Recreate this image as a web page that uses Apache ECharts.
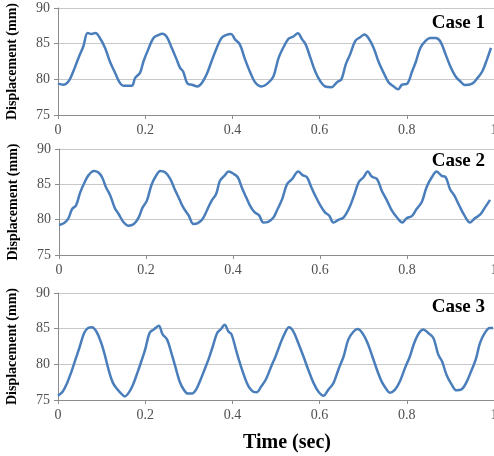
<!DOCTYPE html>
<html>
<head>
<meta charset="utf-8">
<title>Displacement vs time</title>
<script src="https://cdn.jsdelivr.net/npm/echarts@6/dist/echarts.min.js"></script>
<style>
  html, body { margin: 0; padding: 0; background: #fff; }
  #chart { width: 494px; height: 456px; }
</style>
</head>
<body>
<div id="chart"></div>
<script>
// values
const caseNames = ['Case 1', 'Case 2', 'Case 3']
const xTicks = [0, 0.2, 0.4, 0.6, 0.8, 1]
const yTicks = [75, 80, 85, 90]

const time1 = [0, 0.012, 0.024, 0.035, 0.047, 0.058, 0.068, 0.077, 0.086, 0.096, 0.108, 0.119, 0.131, 0.142, 0.150, 0.169, 0.177, 0.188, 0.196, 0.207, 0.219, 0.230, 0.239, 0.249, 0.261, 0.272, 0.280, 0.287, 0.297, 0.307, 0.320, 0.330, 0.341, 0.352, 0.364, 0.375, 0.385, 0.397, 0.406, 0.417, 0.429, 0.440, 0.452, 0.467, 0.482, 0.494, 0.506, 0.518, 0.529, 0.540, 0.550, 0.560, 0.568, 0.579, 0.590, 0.602, 0.613, 0.627, 0.640, 0.650, 0.660, 0.670, 0.682, 0.693, 0.703, 0.712, 0.724, 0.735, 0.747, 0.758, 0.770, 0.780, 0.789, 0.801, 0.812, 0.821, 0.831, 0.843, 0.854, 0.866, 0.877, 0.889, 0.900, 0.912, 0.923, 0.933, 0.950, 0.961, 0.973, 0.984, 0.993]
const disp1 = [79.4, 79.25, 79.7, 81.1, 83.0, 84.6, 86.5, 86.35, 86.5, 85.8, 84.4, 82.5, 80.9, 79.5, 79.1, 79.1, 80.2, 80.9, 82.5, 84.2, 85.8, 86.2, 86.4, 86.0, 84.4, 82.8, 81.6, 81.1, 79.4, 79.25, 79.0, 79.5, 80.7, 82.5, 84.4, 85.8, 86.2, 86.35, 85.6, 84.9, 82.8, 81.1, 79.6, 79.0, 79.5, 80.4, 83.0, 84.6, 85.7, 86.0, 86.45, 85.6, 84.9, 83.0, 81.1, 79.7, 79.0, 78.9, 79.6, 80.0, 82.1, 83.5, 85.4, 85.9, 86.3, 85.8, 84.4, 82.5, 80.9, 79.6, 79.0, 78.6, 79.25, 79.4, 81.1, 82.5, 84.4, 85.4, 85.8, 85.8, 85.3, 83.5, 81.8, 80.4, 79.7, 79.2, 79.4, 80.1, 81.1, 82.8, 84.4]

const time2 = [0, 0.011, 0.021, 0.030, 0.039, 0.049, 0.059, 0.068, 0.080, 0.090, 0.099, 0.108, 0.118, 0.128, 0.137, 0.149, 0.160, 0.172, 0.183, 0.192, 0.202, 0.212, 0.221, 0.233, 0.244, 0.256, 0.266, 0.276, 0.286, 0.298, 0.309, 0.319, 0.330, 0.340, 0.351, 0.361, 0.370, 0.380, 0.390, 0.401, 0.411, 0.420, 0.430, 0.439, 0.449, 0.460, 0.470, 0.481, 0.493, 0.501, 0.513, 0.524, 0.536, 0.550, 0.560, 0.570, 0.580, 0.589, 0.601, 0.612, 0.621, 0.631, 0.643, 0.654, 0.666, 0.677, 0.689, 0.700, 0.710, 0.719, 0.731, 0.742, 0.754, 0.765, 0.777, 0.789, 0.799, 0.811, 0.822, 0.834, 0.845, 0.857, 0.868, 0.880, 0.889, 0.899, 0.909, 0.920, 0.932, 0.945, 0.956, 0.968, 0.979, 0.991]
const disp2 = [79.25, 79.5, 80.1, 81.5, 82.0, 83.9, 85.3, 86.3, 86.9, 86.7, 86.0, 84.6, 83.4, 81.7, 80.8, 79.6, 79.15, 79.4, 80.3, 81.7, 82.7, 84.8, 86.0, 86.9, 86.7, 85.75, 84.3, 83.0, 81.7, 80.6, 79.4, 79.5, 80.1, 81.3, 82.7, 83.6, 85.5, 86.2, 86.8, 86.5, 86.0, 84.6, 83.2, 82.0, 81.1, 80.6, 79.6, 79.7, 80.3, 81.3, 82.9, 85.0, 85.75, 86.8, 86.3, 86.0, 84.6, 83.4, 82.0, 81.0, 80.6, 79.6, 80.0, 80.3, 81.5, 83.2, 85.3, 86.0, 86.8, 86.1, 85.75, 84.1, 82.7, 81.3, 80.3, 79.6, 80.2, 80.5, 81.5, 82.5, 84.6, 86.0, 86.8, 86.2, 86.0, 84.3, 83.4, 82.0, 80.6, 79.6, 80.2, 80.7, 81.7, 82.8]

const time3 = [0, 0.011, 0.021, 0.031, 0.040, 0.050, 0.060, 0.069, 0.078, 0.088, 0.098, 0.107, 0.116, 0.126, 0.136, 0.145, 0.153, 0.162, 0.172, 0.182, 0.191, 0.200, 0.210, 0.220, 0.231, 0.240, 0.250, 0.260, 0.269, 0.279, 0.289, 0.298, 0.307, 0.317, 0.327, 0.336, 0.345, 0.355, 0.365, 0.374, 0.382, 0.391, 0.398, 0.408, 0.416, 0.426, 0.437, 0.447, 0.456, 0.466, 0.477, 0.489, 0.499, 0.509, 0.519, 0.530, 0.540, 0.551, 0.563, 0.574, 0.586, 0.597, 0.609, 0.620, 0.632, 0.643, 0.655, 0.666, 0.678, 0.687, 0.698, 0.710, 0.721, 0.733, 0.743, 0.754, 0.761, 0.773, 0.784, 0.796, 0.807, 0.817, 0.828, 0.838, 0.849, 0.861, 0.872, 0.881, 0.891, 0.903, 0.914, 0.926, 0.937, 0.949, 0.958, 0.968, 0.979, 0.990, 0.998]
const disp3 = [75.6, 76.2, 77.4, 79.0, 80.65, 82.5, 84.4, 85.1, 85.2, 84.6, 83.2, 81.4, 79.25, 77.4, 76.5, 75.9, 75.5, 76.0, 77.15, 78.8, 80.4, 82.1, 84.4, 84.9, 85.4, 84.2, 83.5, 81.6, 79.7, 77.6, 76.4, 75.9, 75.9, 76.5, 77.85, 79.25, 80.65, 82.5, 84.4, 84.95, 85.55, 84.6, 84.2, 82.1, 80.4, 78.55, 76.9, 76.2, 76.1, 76.9, 77.9, 79.7, 81.1, 82.75, 84.2, 85.2, 84.6, 83.0, 81.1, 79.25, 77.4, 76.2, 75.6, 76.45, 77.4, 79.25, 81.1, 83.5, 84.6, 84.95, 84.4, 83.0, 81.1, 79.0, 77.5, 76.45, 76.0, 76.45, 77.6, 79.5, 81.1, 83.0, 84.4, 84.9, 84.4, 83.7, 81.4, 80.4, 78.55, 77.15, 76.35, 76.5, 77.5, 79.25, 80.65, 83.0, 84.4, 85.1, 85.1]

const times = [time1, time2, time3]
const disps = [disp1, disp2, disp3]

const serif = "'Liberation Serif', 'Times New Roman', serif"
const lineColor = '#4a7ebb'

// one grid per case, stacked; labels may run off the right edge like the original
const grids = [
  { left: 58, right: 0, top: 8, height: 107, outerBoundsMode: 'none' },
  { left: 59, right: 0, top: 149, height: 106, outerBoundsMode: 'none' },
  { left: 58, right: 0, top: 293, height: 107, outerBoundsMode: 'none' },
]
const caseTitleTop = [14, 152, 298]

const xAxes = grids.map((g, i) => ({
  type: 'value',
  gridIndex: i,
  min: xTicks[0],
  max: xTicks[xTicks.length - 1],
  interval: 0.2,
  axisLine: { show: true, lineStyle: { color: '#8c8c8c', width: 1 } },
  axisTick: { show: true, length: 4, lineStyle: { color: '#8c8c8c' } },
  axisLabel: { color: '#505050', fontFamily: serif, fontSize: 14, margin: 8 },
  splitLine: { show: false },
}))

const yAxes = grids.map((g, i) => ({
  type: 'value',
  gridIndex: i,
  min: yTicks[0],
  max: yTicks[yTicks.length - 1],
  interval: 5,
  name: 'Displacement (mm)',
  nameLocation: 'middle',
  nameGap: 39,
  nameTextStyle: { color: '#000', fontFamily: serif, fontWeight: 'bold', fontSize: 14 },
  axisLine: { show: true, lineStyle: { color: '#8c8c8c', width: 1 } },
  axisTick: { show: true, length: 4, lineStyle: { color: '#8c8c8c' } },
  axisLabel: { color: '#505050', fontFamily: serif, fontSize: 14, margin: 8 },
  splitLine: { show: true, lineStyle: { color: '#c8c8c8', width: 1 } },
}))

const series = grids.map((g, i) => ({
  type: 'line',
  xAxisIndex: i,
  yAxisIndex: i,
  data: times[i].map((t, k) => [t, disps[i][k]]),
  showSymbol: false,
  smooth: 0.35,
  lineStyle: { color: lineColor, width: 2.5 },
  animation: false,
}))

const titles = caseNames.map((name, i) => ({
  text: name,
  right: 9,
  top: caseTitleTop[i],
  padding: 0,
  textStyle: { color: '#000', fontFamily: serif, fontWeight: 'bold', fontSize: 19 },
}))
titles.push({
  text: 'Time (sec)',
  left: 243,
  top: 433,
  padding: 0,
  textStyle: { color: '#000', fontFamily: serif, fontWeight: 'bold', fontSize: 20 },
})

const chart = echarts.init(document.getElementById('chart'))
chart.setOption({
  animation: false,
  backgroundColor: '#fff',
  title: titles,
  grid: grids,
  xAxis: xAxes,
  yAxis: yAxes,
  series: series,
})
</script>
</body>
</html>
